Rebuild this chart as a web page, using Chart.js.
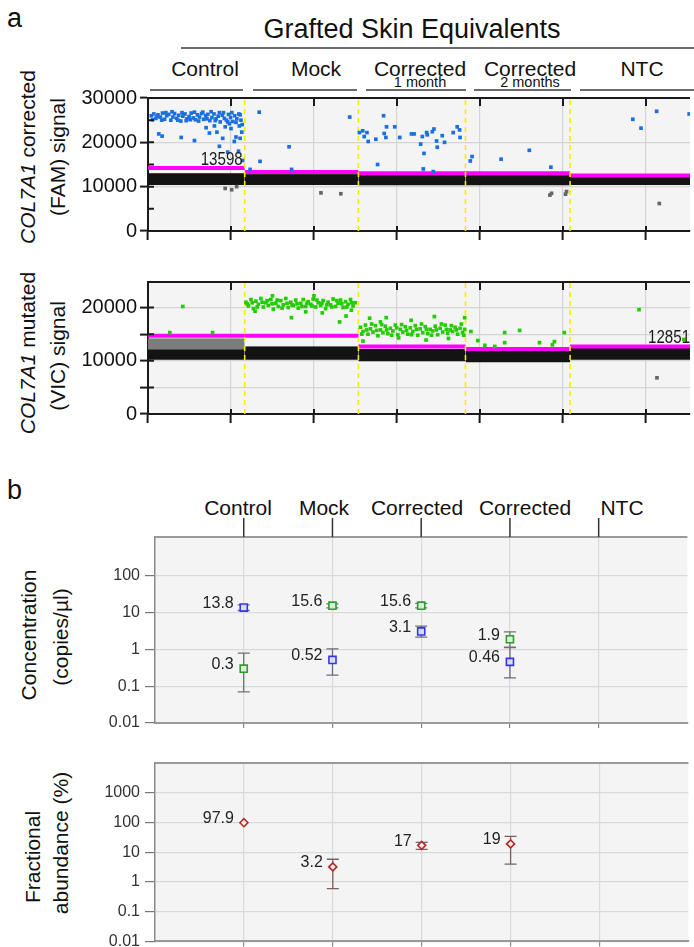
<!DOCTYPE html>
<html>
<head>
<meta charset="utf-8">
<script src="https://cdn.jsdelivr.net/npm/chart.js@4.4.1/dist/chart.umd.min.js"></script>
<style>
body{margin:0;background:#fff;}
#page{position:relative;width:694px;height:947px;overflow:hidden;font-family:"Liberation Sans",Arial,sans-serif;color:#111;}
canvas{position:absolute;left:0;}
.t{position:absolute;white-space:nowrap;line-height:1;}
.c{transform:translateX(-50%);}
.rot{position:absolute;white-space:nowrap;line-height:1;font-size:21px;transform:translate(-50%,-50%) rotate(-90deg);}
.hl{position:absolute;height:2px;background:#6b6b6b;}
</style>
</head>
<body>
<div id="page">
  <div class="t" style="left:7px;top:5px;font-size:27px;">a</div>
  <div class="t c" style="left:412px;top:16px;font-size:27px;">Grafted Skin Equivalents</div>
  <div class="hl" style="left:181px;top:47px;width:513px;"></div>
  <div class="t c" style="left:205px;top:58px;font-size:21px;">Control</div>
  <div class="t c" style="left:316px;top:58px;font-size:21px;">Mock</div>
  <div class="t c" style="left:420px;top:58px;font-size:21px;">Corrected</div>
  <div class="t c" style="left:530px;top:58px;font-size:21px;">Corrected</div>
  <div class="t c" style="left:642px;top:58px;font-size:21px;">NTC</div>
  <div class="t c" style="left:420px;top:75px;font-size:14.5px;">1 month</div>
  <div class="t c" style="left:530px;top:75px;font-size:14.5px;">2 months</div>
  <div class="hl" style="left:150px;top:89px;width:93px;"></div>
  <div class="hl" style="left:253px;top:89px;width:104px;"></div>
  <div class="hl" style="left:366px;top:89px;width:100px;"></div>
  <div class="hl" style="left:474px;top:89px;width:97px;"></div>
  <div class="hl" style="left:580px;top:89px;width:114px;"></div>

  <div class="rot" style="left:27px;top:157px;"><i>COL7A1</i> corrected</div>
  <div class="rot" style="left:57px;top:157px;">(FAM) signal</div>
  <div class="rot" style="left:27px;top:353px;"><i>COL7A1</i> mutated</div>
  <div class="rot" style="left:57px;top:356px;">(VIC) signal</div>

  <div class="t" style="left:7px;top:477px;font-size:27px;">b</div>
  <div class="t c" style="left:238px;top:497px;font-size:21px;">Control</div>
  <div class="t c" style="left:324px;top:497px;font-size:21px;">Mock</div>
  <div class="t c" style="left:417px;top:497px;font-size:21px;">Corrected</div>
  <div class="t c" style="left:525px;top:497px;font-size:21px;">Corrected</div>
  <div class="t c" style="left:622px;top:497px;font-size:21px;">NTC</div>

  <div class="rot" style="left:28px;top:635px;">Concentration</div>
  <div class="rot" style="left:60px;top:637px;">(copies/µl)</div>
  <div class="rot" style="left:32px;top:857px;">Fractional</div>
  <div class="rot" style="left:60px;top:843px;">abundance (%)</div>

  <canvas id="fam" width="694" height="160" style="top:88px"></canvas>
  <canvas id="vic" width="694" height="160" style="top:270px"></canvas>
  <canvas id="conc" width="694" height="220" style="top:515px"></canvas>
  <canvas id="frac" width="694" height="192" style="top:755px"></canvas>
</div>
<script>
// ---------------- panel a : droplet plots ----------------
const wellNames = ['Control', 'Mock', 'Corrected 1 month', 'Corrected 2 months', 'NTC'];
// event number where each well starts / ends
const wellEdges = [0, 1165, 2535, 3825, 5085, 6530];
const eventTicks = [0, 1000, 2000, 3000, 4000, 5000, 6000];

// FAM channel (corrected allele)
const famTicks = [0, 5000, 10000, 15000, 20000, 25000, 30000];
const famThreshold = [14200, 13300, 13000, 13000, 12500];
const famThresholdText = ['13598', '', '', '', ''];
const famNegLow = [10400, 10400, 10300, 10300, 10400];
const famNegHigh = [12900, 12700, 12500, 12500, 12300];
const famPositive = [
  [40,26000],[70,26400],[95,25400],[120,26200],[150,25700],[175,26600],[200,25200],[225,26000],[250,26300],[275,25000],
  [300,25700],[320,26500],[345,25400],[370,26100],[395,24800],[420,25900],[445,26400],[470,25300],[495,25800],[520,26600],
  [545,25500],[570,25100],[595,26200],[620,25700],[645,26500],[670,25200],[695,26000],[720,26300],[745,24900],[770,25600],
  [795,26400],[820,25300],[845,25900],[870,24600],[895,26100],[920,25400],[945,25000],[970,26300],[995,25600],[1020,24700],
  [1045,26000],[1070,25300],[1095,26400],[1120,25000],
  [55,25100],[110,25800],[165,25000],[215,26700],[290,26900],[360,25000],[410,26700],[460,24900],[510,25100],[560,26800],
  [610,24800],[660,26800],[710,25300],[760,26900],[810,24900],[860,26700],[910,26700],[960,24600],[1010,26700],[1060,24500],
  [1110,26200],[1135,24000],
  [130,21900],[170,21400],[400,21100],[560,20400],[700,23300],[740,22100],[800,23700],[830,22300],[860,19100],[900,20900],
  [930,23500],[960,17800],[1000,23100],[1040,20200],[1060,21200],[1090,18000],[1110,20900],[1130,22300],[1140,15900],[1100,23700],
  [980,24200],
  [1340,26800],[1700,19000],[1350,15700],[1730,13900],[1230,13900],[2430,25700],
  [2547,22200],[2587,22600],[2638,22200],[2605,21300],[2653,20200],[2745,20700],[2838,26000],[2846,22000],[2874,23500],[2866,21100],
  [2973,23500],[3033,21100],[3174,21900],[3206,21900],[3285,19600],[3305,21300],[3357,22200],[3365,21700],[3425,22400],[3445,23000],
  [3477,20300],[3485,18900],[3545,21500],[3573,20000],[3677,22200],[3725,23500],[3754,22800],[3760,21100],[2766,15000],[3325,17500],
  [3317,14000],[3437,13400],
  [3883,15800],[3904,16800],[4254,16200],[4594,18200],[4854,14400],
  [5841,25200],[5940,23200],[6128,27000],[6520,26400]
];
const famRain = [
  [930,9600],[1008,9300],[1068,10000],[2084,8600],[2323,8400],[4842,8100],[4862,8500],[5030,8300],[5042,8900],[6160,6200]
];

// VIC channel (mutated allele)
const vicTicks = [0, 5000, 10000, 15000, 20000];
const vicThreshold = [14700, 14700, 12700, 12200, 12700];
const vicThresholdText = ['', '', '', '', '12851'];
const vicNegLow = [10200, 10200, 9900, 9700, 10200];
const vicNegHigh = [12100, 12600, 12100, 12100, 12300];
const vicGreyLow = [12100, null, null, null, null];
const vicGreyHigh = [14100, null, null, null, null];
const vicPositive = [
  [419,20200],[263,15300],[778,15300],
  [1180,21000],[1210,20300],[1240,21500],[1270,19800],[1300,21200],[1330,20600],[1360,21700],[1390,20100],[1420,20900],[1450,20400],
  [1480,21500],[1510,19700],[1540,20800],[1570,20200],[1600,21300],[1630,20500],[1660,21700],[1690,20000],[1720,21000],[1750,20400],
  [1780,21400],[1810,19900],[1840,20800],[1870,21500],[1900,20200],[1930,21100],[1960,20600],[1990,21600],[2020,20100],[2050,20900],
  [2080,20400],[2110,21300],[2140,19800],[2170,21000],[2200,20500],[2230,21600],[2260,20200],[2290,20800],[2320,21400],[2350,20000],
  [2380,21100],[2410,20600],[2440,21500],[2470,20300],[2495,20900],
  [1195,20700],[1255,20900],[1315,20100],[1375,21000],[1435,21300],[1495,20700],[1555,21400],[1615,19900],[1675,20800],[1735,20500],
  [1795,20700],[1855,20200],[1915,20800],[1975,20300],[2035,21400],[2095,20800],[2155,20500],[2215,20100],[2275,21300],[2335,20700],
  [2395,20100],[2455,20900],
  [1290,19300],[1728,18100],[2308,17300],[2386,18400],[1900,19200],[2100,19000],[2450,19500],[1500,22200],[2000,22200],
  [2560,16300],[2590,15500],[2620,16700],[2650,15000],[2680,16000],[2710,15400],[2740,16600],[2770,14700],[2800,15800],[2830,15300],
  [2860,16500],[2890,15100],[2920,16100],[2950,15600],[2980,16700],[3010,14900],[3040,15900],[3070,15400],[3100,16400],[3130,15000],
  [3160,16200],[3190,15500],[3220,16600],[3250,14800],[3280,16000],[3310,15300],[3340,16400],[3370,15100],[3400,15900],[3430,15600],
  [3460,16500],[3490,14900],[3520,16100],[3550,15400],[3580,16700],[3610,15200],[3640,15800],[3670,15500],[3700,16300],[3730,15000],
  [3760,16100],[3790,15300],[3815,15900],
  [2575,15000],[2635,15800],[2695,16900],[2755,15700],[2815,16800],[2875,15800],[2935,14800],[2995,16200],[3055,16800],[3115,15700],
  [3175,14900],[3235,15900],[3295,16900],[3355,15900],[3415,14800],[3475,15800],[3535,16900],[3595,15900],[3655,16600],[3715,15800],
  [3775,16900],[3805,14800],
  [2670,18000],[2870,18100],[3170,17600],[3450,18300],[3815,18100],[2590,13700],[3350,13900],[3620,14200],[3020,14300],[2800,17300],
  [3890,15500],[3974,13800],[4297,15300],[4297,13400],[4477,15700],[4717,13400],[5016,15300],[4896,13600],[4178,12700],[4058,12900],
  [4872,13000],
  [5916,19600],[6455,14000]
];
const vicRain = [[6132,6800]];

// ---------------- panel b : concentration / abundance ----------------
const sampleNames = ['Control', 'Mock', 'Corrected', 'Corrected', 'NTC'];
const samplePos = [1, 2, 3, 4];
const concFam = [13.8, 0.52, 3.1, 0.46];
const concFamLow = [11.5, 0.2, 2.16, 0.17];
const concFamHigh = [16.4, 1.04, 4.3, 1.15];
const concVic = [0.3, 15.6, 15.6, 1.9];
const concVicLow = [0.07, 13.6, 13.5, 1.12];
const concVicHigh = [0.8, 17.4, 18.0, 3.0];
const concTicks = [0.01, 0.1, 1, 10, 100];
const fracAbund = [97.9, 3.2, 17, 19];
const fracLow = [null, 0.6, 12.5, 4.0];
const fracHigh = [null, 5.8, 21.5, 34];
const fracTicks = [0.01, 0.1, 1, 10, 100, 1000];

const family = '"Liberation Sans", Arial, sans-serif';
const pts = arr => arr.map(([x, y]) => ({x, y}));

function band(x0, x1, lo, hi, color) {
  return {type: 'line', data: [{x: x0, y: hi}, {x: x1, y: hi}], fill: {target: {value: lo}},
    backgroundColor: color, borderColor: color, borderWidth: 1, pointRadius: 0, order: 4};
}

function dropletChart(id, cfg) {
  const datasets = [];
  for (let i = 0; i < wellNames.length; i++) {
    const x0 = wellEdges[i], x1 = wellEdges[i + 1];
    if (cfg.greyHigh && cfg.greyHigh[i] != null) datasets.push(band(x0, x1, cfg.greyLow[i], cfg.greyHigh[i], '#7c7c7c'));
    datasets.push(band(x0, x1, cfg.negLow[i], cfg.negHigh[i], '#131313'));
    datasets.push({type: 'line', data: [{x: x0, y: cfg.threshold[i]}, {x: x1, y: cfg.threshold[i]}],
      borderColor: '#ff00ff', borderWidth: 4, pointRadius: 0, order: 3});
  }
  for (let i = 1; i < wellEdges.length - 1; i++) {
    datasets.push({type: 'line', data: [{x: wellEdges[i], y: 0}, {x: wellEdges[i], y: cfg.max}],
      borderColor: '#f5ee00', borderWidth: 1.6, borderDash: [5, 4], pointRadius: 0, order: 2});
  }
  datasets.push({type: 'scatter', data: pts(cfg.rain), pointStyle: 'rect', pointRadius: 2.6,
    pointBackgroundColor: '#666', pointBorderWidth: 0, order: 1});
  datasets.push({type: 'scatter', data: pts(cfg.positive), pointStyle: 'rect', pointRadius: 2.6,
    pointBackgroundColor: cfg.color, pointBorderWidth: 0, order: 0});

  const frame = {
    id: 'frame' + id,
    beforeDraw(chart) {
      const {ctx, chartArea: a} = chart;
      ctx.save(); ctx.fillStyle = '#f4f4f4';
      ctx.fillRect(a.left, a.top, a.right - a.left, a.bottom - a.top); ctx.restore();
    },
    afterDatasetsDraw(chart) {
      const {ctx, scales: {x, y}} = chart;
      ctx.save();
      ctx.font = '18px ' + family; ctx.fillStyle = '#1a1a1a'; ctx.textBaseline = 'alphabetic';
      cfg.thresholdText.forEach((txt, i) => {
        if (!txt) return;
        const py = y.getPixelForValue(cfg.threshold[i]) - 3;
        const right = i === 0 ? x.getPixelForValue(wellEdges[1]) - 2 : x.getPixelForValue(wellEdges[i]) + 120;
        ctx.save(); ctx.translate(right, py); ctx.scale(0.84, 1); ctx.textAlign = 'right';
        ctx.fillText(txt, 0, 0); ctx.restore();
      });
      ctx.restore();
    },
    afterDraw(chart) {
      const {ctx, chartArea: a, scales: {x, y}} = chart;
      ctx.save(); ctx.strokeStyle = '#1a1a1a'; ctx.lineWidth = 2; ctx.beginPath();
      ctx.moveTo(a.left, a.top); ctx.lineTo(a.right, a.top);
      eventTicks.forEach(v => {
        const px = x.getPixelForValue(v);
        ctx.moveTo(px, a.top); ctx.lineTo(px, a.top + 8);
        ctx.moveTo(px, a.bottom); ctx.lineTo(px, a.bottom - 5);
      });
      cfg.ticks.forEach(v => {
        const py = y.getPixelForValue(v);
        ctx.moveTo(a.left, py); ctx.lineTo(a.left + 6, py);
      });
      ctx.stroke(); ctx.restore();
    }
  };

  return new Chart(document.getElementById(id), {
    type: 'scatter',
    data: {datasets},
    options: {
      responsive: false, animation: false, events: [],
      layout: {padding: {top: cfg.padTop, left: 0, right: 0, bottom: 0}},
      plugins: {legend: {display: false}, tooltip: {enabled: false}},
      scales: {
        x: {type: 'linear', min: 0, max: wellEdges[wellEdges.length - 1],
          afterBuildTicks: s => { s.ticks = eventTicks.map(v => ({value: v})); },
          ticks: {display: false},
          grid: {color: '#d4d4d4', lineWidth: 1.2, tickLength: 9, tickColor: '#1a1a1a', tickWidth: 2},
          border: {display: true, color: '#1a1a1a', width: 2},
          afterFit: s => { s.height = cfg.axisH; s.paddingLeft = 0; s.paddingRight = 0; }},
        y: {type: 'linear', min: 0, max: cfg.max,
          afterBuildTicks: s => { s.ticks = cfg.ticks.map(v => ({value: v})); },
          ticks: {callback: v => (v % 10000 === 0 ? String(v) : ''), color: '#111', padding: 3, font: {size: 20, family}},
          grid: {color: '#d4d4d4', lineWidth: 1.2, tickLength: 8, tickColor: '#1a1a1a', tickWidth: 2},
          border: {display: true, color: '#1a1a1a', width: 2},
          afterFit: s => { s.width = 148; s.paddingTop = 0; s.paddingBottom = 0; }}
      }
    },
    plugins: [frame]
  });
}

dropletChart('fam', {max: 30000, ticks: famTicks, threshold: famThreshold, thresholdText: famThresholdText,
  negLow: famNegLow, negHigh: famNegHigh, positive: famPositive, rain: famRain, color: '#1b6fe0',
  padTop: 10, axisH: 17});
dropletChart('vic', {max: 24800, ticks: vicTicks, threshold: vicThreshold, thresholdText: vicThresholdText,
  negLow: vicNegLow, negHigh: vicNegHigh, greyLow: vicGreyLow, greyHigh: vicGreyHigh,
  positive: vicPositive, rain: vicRain, color: '#22cc00', padTop: 12, axisH: 16});

// ---------------- panel b charts ----------------
const errorBars = {
  id: 'errorBars',
  beforeDatasetsDraw(chart) {
    const {ctx, scales: {x, y}} = chart;
    chart.data.datasets.forEach(ds => {
      if (!ds.errLow) return;
      ds.data.forEach((p, i) => {
        if (ds.errLow[i] == null) return;
        const px = x.getPixelForValue(p.x);
        const lo = y.getPixelForValue(ds.errLow[i]), hi = y.getPixelForValue(ds.errHigh[i]);
        ctx.save(); ctx.strokeStyle = ds.errColor; ctx.lineWidth = 1.3; ctx.beginPath();
        ctx.moveTo(px, lo); ctx.lineTo(px, hi);
        ctx.moveTo(px - 6, lo); ctx.lineTo(px + 6, lo);
        ctx.moveTo(px - 6, hi); ctx.lineTo(px + 6, hi);
        ctx.stroke(); ctx.restore();
      });
    });
  },
  afterDatasetsDraw(chart) {
    const {ctx, scales: {x, y}} = chart;
    ctx.save(); ctx.font = '16px ' + family; ctx.fillStyle = '#222';
    ctx.textAlign = 'right'; ctx.textBaseline = 'middle';
    chart.data.datasets.forEach(ds => {
      ds.data.forEach(p => {
        ctx.fillText(String(p.y), x.getPixelForValue(p.x) - 10, y.getPixelForValue(p.y) - 4);
      });
    });
    ctx.restore();
  }
};

function logChart(id, cfg) {
  const frame = {
    id: 'frame' + id,
    beforeDraw(chart) {
      const {ctx, chartArea: a} = chart;
      ctx.save(); ctx.fillStyle = '#f4f4f4';
      ctx.fillRect(a.left, a.top, a.right - a.left, a.bottom - a.top); ctx.restore();
    },
    afterDraw(chart) {
      const {ctx, chartArea: a, scales: {x}} = chart;
      ctx.save(); ctx.strokeStyle = '#9a9a9a'; ctx.lineWidth = 2; ctx.beginPath();
      ctx.moveTo(a.left, a.top); ctx.lineTo(a.right, a.top); ctx.stroke();
      if (cfg.header) {
        ctx.strokeStyle = '#333'; ctx.lineWidth = 1.5; ctx.beginPath();
        sampleNames.forEach((n, i) => {
          const px = x.getPixelForValue(i + 1);
          ctx.moveTo(px, a.top - 19); ctx.lineTo(px, a.top);
        });
        ctx.stroke();
      }
      ctx.restore();
    }
  };
  return new Chart(document.getElementById(id), {
    type: 'scatter',
    data: {datasets: cfg.datasets},
    options: {
      responsive: false, animation: false, events: [],
      layout: {padding: {top: cfg.padTop, left: 0, right: 0, bottom: 0}},
      plugins: {legend: {display: false}, tooltip: {enabled: false}},
      scales: {
        x: {type: 'linear', min: 0, max: 6,
          afterBuildTicks: s => { s.ticks = sampleNames.map((n, i) => ({value: i + 1})); },
          ticks: {display: false},
          grid: {color: '#d9d9d9', lineWidth: 1.2, tickLength: 5, tickColor: '#888'},
          border: {display: true, color: '#9a9a9a', width: 2},
          afterFit: s => { s.height = cfg.axisH; s.paddingLeft = 0; s.paddingRight = 0; }},
        y: {type: 'logarithmic', min: 0.01, max: cfg.max,
          afterBuildTicks: s => { s.ticks = cfg.ticks.map(v => ({value: v})); },
          ticks: {callback: v => String(v), color: '#333', padding: 5, font: {size: 16, family}},
          grid: {color: '#d9d9d9', lineWidth: 1.2, tickLength: 10, tickColor: '#777'},
          border: {display: true, color: '#8a8a8a', width: 1.5},
          afterFit: s => { s.width = 155; s.paddingTop = 0; s.paddingBottom = 0; }}
      }
    },
    plugins: [frame, errorBars]
  });
}

logChart('conc', {max: 1150, ticks: concTicks, padTop: 22, axisH: 12, header: true, datasets: [
  {data: samplePos.map((x, i) => ({x, y: concFam[i]})), errLow: concFamLow, errHigh: concFamHigh, errColor: '#6a6a80',
    pointStyle: 'rect', pointRadius: 5, pointBorderColor: '#3434ee', pointBackgroundColor: 'rgba(220,222,255,0.9)', pointBorderWidth: 1.6},
  {data: samplePos.map((x, i) => ({x, y: concVic[i]})), errLow: concVicLow, errHigh: concVicHigh, errColor: '#6a756a',
    pointStyle: 'rect', pointRadius: 5, pointBorderColor: '#2f9a2f', pointBackgroundColor: 'rgba(220,245,220,0.9)', pointBorderWidth: 1.6}
]});

logChart('frac', {max: 10000, ticks: fracTicks, padTop: 8, axisH: 5, header: false, datasets: [
  {data: samplePos.map((x, i) => ({x, y: fracAbund[i]})), errLow: fracLow, errHigh: fracHigh, errColor: '#7a6060',
    pointStyle: 'rectRot', pointRadius: 4, pointBorderColor: '#b02a2a', pointBackgroundColor: 'rgba(252,235,235,0.95)', pointBorderWidth: 1.6}
]});
</script>
</body>
</html>
